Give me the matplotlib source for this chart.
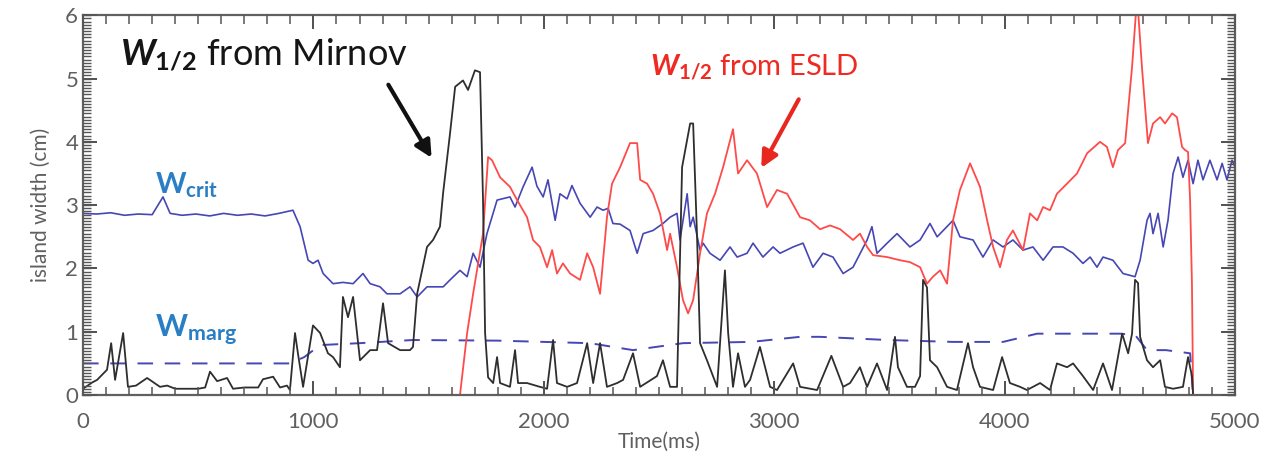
import numpy as np
import matplotlib.pyplot as plt
import matplotlib.transforms as mtransforms

plt.rcParams['font.family'] = ['Lato', 'DejaVu Sans']
plt.rcParams['mathtext.fontset'] = 'custom'
plt.rcParams['mathtext.it'] = 'Lato:bold:italic'
plt.rcParams['mathtext.bf'] = 'Lato:bold'
plt.rcParams['mathtext.rm'] = 'Lato'

# W1/2 from Mirnov (black)
t_mir = [0, 40, 61, 104, 122, 139, 174, 195, 230, 278, 334, 365, 400, 500, 530, 551, 582, 625,
         651, 700, 760, 781, 825, 855, 885, 898, 920, 933, 955, 998, 1029, 1063, 1085, 1115,
         1128, 1150, 1172, 1202, 1246, 1276, 1302, 1324, 1376, 1419, 1432, 1450, 1493, 1519,
         1549, 1563, 1593, 1615, 1649, 1671, 1701, 1723, 1736, 1745, 1758, 1780, 1797, 1810,
         1853, 1875, 1888, 1927, 1983, 2014, 2040, 2057, 2101, 2144, 2188, 2214, 2244, 2274,
         2318, 2344, 2387, 2418, 2491, 2517, 2548, 2578, 2600, 2635, 2648, 2665, 2678, 2708,
         2752, 2786, 2800, 2821, 2843, 2873, 2895, 2938, 2982, 3012, 3082, 3112, 3186, 3248,
         3299, 3329, 3372, 3403, 3446, 3490, 3524, 3537, 3576, 3611, 3633, 3646, 3663, 3676,
         3707, 3750, 3793, 3841, 3863, 3893, 3950, 3989, 4023, 4067, 4097, 4154, 4197, 4227,
         4271, 4297, 4340, 4384, 4427, 4466, 4510, 4536, 4553, 4566, 4579, 4588, 4618, 4644,
         4675, 4696, 4731, 4774, 4796, 4813, 4818, 5000]
w_mir = [0.1, 0.2, 0.24, 0.4, 0.82, 0.24, 0.98, 0.13, 0.15, 0.27, 0.13, 0.15, 0.1, 0.1, 0.12,
         0.37, 0.22, 0.27, 0.1, 0.12, 0.12, 0.25, 0.29, 0.12, 0.15, 0.08, 0.98, 0.65, 0.13, 1.1,
         0.98, 0.66, 0.6, 0.44, 1.55, 1.23, 1.55, 0.55, 0.71, 0.71, 1.45, 0.82, 0.71, 0.71, 0.76,
         1.6, 2.34, 2.45, 2.66, 3.2, 4.14, 4.87, 4.97, 4.82, 5.13, 5.1, 3.08, 0.98, 0.28, 0.19,
         0.6, 0.19, 0.13, 0.71, 0.19, 0.19, 0.13, 0.1, 0.87, 0.19, 0.13, 0.19, 0.82, 0.19, 0.82,
         0.13, 0.19, 0.24, 0.66, 0.13, 0.3, 0.55, 0.13, 0.13, 3.6, 4.29, 4.29, 2.5, 0.82, 0.55,
         0.13, 1.97, 0.98, 0.13, 0.66, 0.13, 0.24, 0.76, 0.13, 0.08, 0.5, 0.13, 0.08, 0.62,
         0.13, 0.19, 0.44, 0.13, 0.5, 0.08, 0.92, 0.44, 0.13, 0.13, 0.3, 1.82, 1.7, 0.55,
         0.44, 0.13, 0.08, 0.82, 0.44, 0.13, 0.08, 0.6, 0.19, 0.13, 0.08, 0.19, 0.08, 0.5,
         0.44, 0.5, 0.3, 0.08, 0.5, 0.08, 0.97, 0.66, 0.97, 1.82, 1.77, 0.92, 0.55, 0.44,
         0.55, 0.13, 0.1, 0.13, 0.6, 0.3, 0.0, 0.0]

# W1/2 from ESLD (red)
t_esld = [0, 1636, 1667, 1693, 1736, 1758, 1775, 1810, 1853, 1884, 1927, 1953, 1983, 2014,
          2036, 2057, 2083, 2114, 2157, 2188, 2214, 2244, 2274, 2296, 2331, 2374, 2405, 2418,
          2448, 2474, 2504, 2535, 2548, 2578, 2604, 2626, 2648, 2678, 2708, 2743, 2778, 2821,
          2843, 2882, 2925, 2969, 3012, 3056, 3112, 3155, 3199, 3242, 3286, 3342, 3372, 3403,
          3429, 3490, 3546, 3589, 3633, 3663, 3689, 3720, 3750, 3776, 3806, 3850, 3893, 3924,
          3950, 3980, 4010, 4036, 4080, 4110, 4141, 4167, 4197, 4227, 4271, 4314, 4358, 4414,
          4444, 4470, 4492, 4523, 4553, 4575, 4596, 4622, 4644, 4675, 4696, 4727, 4748, 4770,
          4783, 4796, 4805, 4813, 4818, 5000]
w_esld = [0, 0, 0.98, 1.6, 2.55, 3.76, 3.71, 3.44, 3.29, 3.08, 2.81, 2.45, 2.34, 2.02, 2.29,
          1.92, 2.08, 1.92, 1.82, 2.24, 2.02, 1.6, 2.81, 3.34, 3.6, 3.98, 3.98, 3.4, 3.34, 3.18,
          2.87, 2.29, 2.55, 2.02, 1.5, 1.29, 1.5, 2.24, 2.87, 3.18, 3.6, 4.2, 3.5, 3.71, 3.5,
          2.97, 3.24, 3.18, 2.81, 2.76, 2.62, 2.68, 2.62, 2.45, 2.55, 2.34, 2.21, 2.18, 2.13,
          2.1, 2.02, 1.76, 1.87, 1.97, 1.76, 2.76, 3.24, 3.66, 3.29, 2.76, 2.34, 2.02, 2.45, 2.6,
          2.29, 2.87, 2.76, 2.97, 2.92, 3.18, 3.34, 3.5, 3.82, 4.0, 3.92, 3.6, 3.87, 3.98, 5.18,
          6.3, 5.18, 3.98, 4.29, 4.39, 4.29, 4.45, 4.39, 3.92, 3.87, 3.84, 3.08, 1.76, 0, 0]

# W_crit (blue solid)
t_crit = [0, 60, 120, 180, 240, 300, 347, 378, 430, 490, 550, 610, 670, 730, 790, 850, 911,
          942, 977, 998, 1020, 1042, 1085, 1128, 1172,
          1215, 1246, 1289, 1319, 1376, 1419, 1450, 1493, 1563, 1593, 1636, 1667, 1693, 1723,
          1753, 1797, 1853, 1875, 1910, 1949, 1970, 1997, 2018, 2049, 2070, 2101, 2122, 2157,
          2201, 2231, 2257, 2279, 2300, 2331, 2374, 2405, 2431, 2474, 2517, 2548, 2578, 2591,
          2622, 2635, 2648, 2678, 2691, 2721, 2765, 2808, 2839, 2882, 2908, 2951, 2995, 3025,
          3082, 3125, 3168, 3212, 3255, 3299, 3342, 3403, 3424, 3446, 3490, 3533, 3589, 3633,
          3676, 3707, 3776, 3806, 3863, 3906, 3950, 3993, 4036, 4080, 4123, 4167, 4210, 4253,
          4297, 4340, 4371, 4401, 4427, 4470, 4514, 4566, 4588, 4618, 4631, 4644, 4666, 4688,
          4709, 4731, 4753, 4774, 4796, 4818, 4839, 4861, 4891, 4922, 4944, 4965, 4987, 5000]
w_crit = [2.87, 2.86, 2.88, 2.84, 2.86, 2.85, 3.13, 2.87, 2.84, 2.86, 2.83, 2.87, 2.84, 2.86,
          2.83, 2.87, 2.92, 2.66, 2.13, 2.08, 2.13, 1.92, 1.76,
          1.78, 1.76, 1.92, 1.76, 1.71, 1.6, 1.6, 1.71, 1.55, 1.71, 1.71, 1.82, 1.97, 1.87, 2.24,
          2.02, 2.55, 3.08, 3.13, 2.97, 3.29, 3.6, 3.3, 3.13, 3.4, 2.76, 3.18, 3.1, 3.31, 3.03,
          2.81, 2.97, 2.92, 2.95, 2.71, 2.7, 2.6, 2.24, 2.55, 2.6, 2.71, 2.81, 2.87, 2.45, 3.18,
          2.66, 2.81, 2.29, 2.4, 2.24, 2.13, 2.34, 2.18, 2.24, 2.4, 2.18, 2.34, 2.24, 2.34, 2.4,
          2.02, 2.24, 2.18, 1.92, 2.02, 2.45, 2.66, 2.24, 2.4, 2.55, 2.34, 2.45, 2.71, 2.5, 2.76,
          2.5, 2.45, 2.18, 2.45, 2.34, 2.45, 2.29, 2.34, 2.13, 2.34, 2.34, 2.24, 2.08, 2.18, 2.02,
          2.18, 2.13, 1.92, 1.87, 2.13, 2.76, 2.87, 2.55, 2.87, 2.34, 2.76, 3.5, 3.76, 3.44, 3.71,
          3.34, 3.71, 3.4, 3.71, 3.4, 3.66, 3.4, 3.71, 3.6]

# W_marg (blue dashed)
t_marg = [0, 898, 960, 1029, 1200, 1432, 1800, 2200, 2387, 2604, 2900, 3112, 3199, 3490, 3776,
          3993, 4141, 4500, 4566, 4618, 4700, 4805, 4818, 5000]
w_marg = [0.5, 0.5, 0.6, 0.79, 0.82, 0.87, 0.86, 0.82, 0.71, 0.82, 0.84, 0.92, 0.92, 0.87,
          0.84, 0.84, 0.97, 0.97, 0.95, 0.71, 0.71, 0.66, 0.0, 0.0]

x_major = np.arange(0, 5001, 1000)
x_minor = np.arange(0, 5001, 100)
y_major = np.arange(0, 7, 1)
y_minor = np.arange(0, 6.001, 0.05)

fig, ax = plt.subplots(figsize=(12.68, 4.76), dpi=100)
fig.subplots_adjust(left=0.0655, right=0.974, bottom=0.170, top=0.968)

ax.plot(t_marg, w_marg, color='#4646b4', lw=1.4, dashes=(8, 6))
ax.plot(t_crit, w_crit, color='#4646b4', lw=1.2)
ax.plot(t_esld, w_esld, color='#ff4a4a', lw=1.3)
ax.plot(t_mir, w_mir, color='#2e2e2e', lw=1.3)

ax.set_xlim(0, 5000)
ax.set_ylim(0, 6)

for s in ax.spines.values():
    s.set_color('#606060')
    s.set_linewidth(1.6)

ax.set_xlabel('Time(ms)', fontsize=15, color='#606060', labelpad=0)
ax.set_ylabel('island width (cm)', fontsize=15, color='#606060', labelpad=10)

ax.text(160, 5.21, r'$\mathit{W}_{\mathbf{1/2}}$ from Mirnov', fontsize=26, color='#151515')
ax.text(2461, 5.05, r'$\mathit{W}_{\mathbf{1/2}}$ from ESLD', fontsize=21, color='#ee2a22')
ax.text(312, 3.19, r'$\mathbf{W}_{\mathbf{crit}}$', fontsize=21, color='#2a7fc4')
ax.text(312, 0.92, r'$\mathbf{W}_{\mathbf{marg}}$', fontsize=22, color='#2a7fc4')

ax.annotate('', xy=(1519, 3.71), xytext=(1319, 4.94),
            arrowprops=dict(arrowstyle='-|>', color='#111111', lw=3, mutation_scale=25))
ax.annotate('', xy=(2938, 3.55), xytext=(3112, 4.71),
            arrowprops=dict(arrowstyle='-|>', color='#e8281e', lw=3, mutation_scale=25))

# axis ticks (labels) plus inward tick marks drawn along every spine
ax.set_xticks(x_major)
ax.set_yticks(y_major)
ax.tick_params(which='major', direction='in', top=True, right=True, color='#4a4a4a',
               length=10, width=1.4, labelcolor='#606060', labelsize=16)
ax.tick_params(axis='x', which='major', pad=12)

tx = mtransforms.blended_transform_factory(ax.transData, ax.transAxes)
ty = mtransforms.blended_transform_factory(ax.transAxes, ax.transData)
for xs, h, lw in [(x_minor, 0.022, 1.1), (x_major, 0.037, 1.4)]:
    ax.vlines(xs, 0, h, transform=tx, colors='#555555', lw=lw, clip_on=False, zorder=3)
    ax.vlines(xs, 1 - h, 1, transform=tx, colors='#555555', lw=lw, clip_on=False, zorder=3)
for ys, w, lw in [(y_minor, 0.0072, 1.0), (y_major, 0.012, 1.4)]:
    ax.hlines(ys, 0, w, transform=ty, colors='#555555', lw=lw, clip_on=False, zorder=3)
    ax.hlines(ys, 1 - w, 1, transform=ty, colors='#555555', lw=lw, clip_on=False, zorder=3)

plt.savefig('out.png', dpi=100)
